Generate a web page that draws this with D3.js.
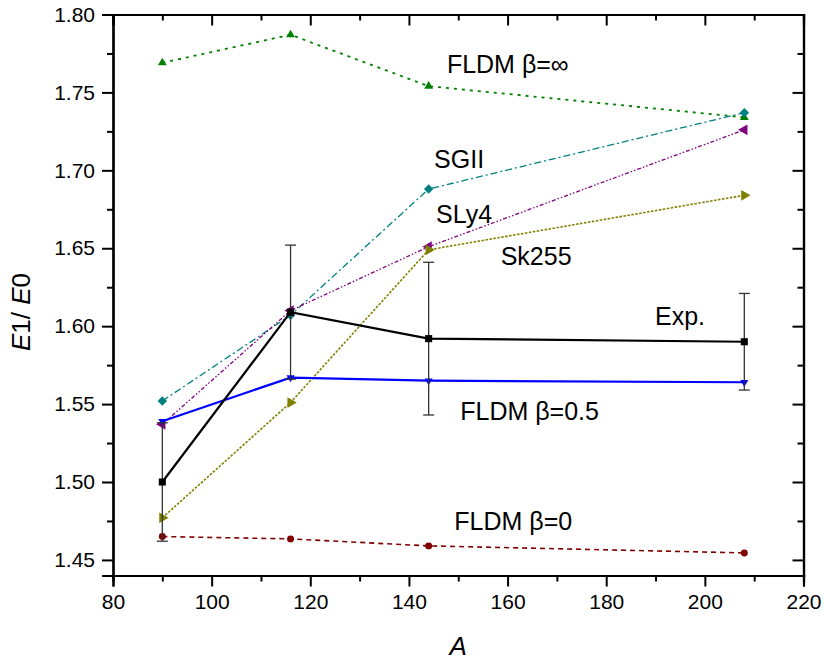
<!DOCTYPE html>
<html>
<head>
<meta charset="utf-8">
<script src="https://cdn.jsdelivr.net/npm/d3@7"></script>
<style>
  body { margin: 0; background: #fff; }
  svg { font-family: "Liberation Sans", Arial, sans-serif; }
</style>
</head>
<body>
<div id="chart"></div>
<script>
// mass numbers and E1/E0 ratios
var massA = [90, 116, 144, 208];
var expVals = [1.500, 1.609, 1.592, 1.590];
var expErr = [0.038, 0.043, 0.049, 0.031];
var fldm05 = [1.539, 1.567, 1.565, 1.564];
var fldm0 = [1.465, 1.4635, 1.459, 1.4545];
var fldmInf = [1.769, 1.787, 1.754, 1.734];
var sgii = [1.552, 1.607, 1.688, 1.737];
var sly4 = [1.537, 1.610, 1.651, 1.726];
var sk255 = [1.477, 1.551, 1.649, 1.684];

var xTicks = [80, 100, 120, 140, 160, 180, 200, 220];
var yTicks = [1.45, 1.50, 1.55, 1.60, 1.65, 1.70, 1.75, 1.80];

var margin = {top: 14.5, right: 20.5, bottom: 87.5, left: 113},
    width = 824 - margin.left - margin.right,
    height = 663 - margin.top - margin.bottom;

var svg = d3.select("#chart")
    .append("svg")
    .attr("width", 824)
    .attr("height", 663)
    .append("g")
    .attr("transform", "translate(" + margin.left + "," + margin.top + ")");

var x = d3.scaleLinear().domain([80, 220]).range([0, width]);
var y = d3.scaleLinear().domain([1.44, 1.80]).range([height, 0]);

var minorX = d3.range(90, 220, 20);
var minorY = d3.range(1.475, 1.80, 0.05);

// bottom axis
svg.append("g")
  .attr("transform", "translate(0," + height + ")")
  .call(d3.axisBottom(x).tickValues(xTicks).tickSize(11).tickPadding(8).tickFormat(d3.format("d")));
svg.append("g")
  .attr("transform", "translate(0," + height + ")")
  .call(d3.axisBottom(x).tickValues(minorX).tickSize(6).tickFormat(""));
// left axis
svg.append("g")
  .call(d3.axisLeft(y).tickValues(yTicks).tickSize(11).tickPadding(7).tickFormat(d3.format(".2f")));
svg.append("g")
  .call(d3.axisLeft(y).tickValues(minorY).tickSize(6).tickFormat(""));
// top axis (ticks inward)
svg.append("g")
  .call(d3.axisTop(x).tickValues(xTicks).tickSize(-11).tickFormat(""));
svg.append("g")
  .call(d3.axisTop(x).tickValues(minorX).tickSize(-6).tickFormat(""));
// right axis (ticks inward)
svg.append("g")
  .attr("transform", "translate(" + width + ",0)")
  .call(d3.axisRight(y).tickValues(yTicks).tickSize(-11).tickFormat(""));
svg.append("g")
  .attr("transform", "translate(" + width + ",0)")
  .call(d3.axisRight(y).tickValues(minorY).tickSize(-6).tickFormat(""));

svg.selectAll(".domain").attr("stroke", "#000").attr("stroke-width", 2.2);
svg.selectAll(".tick line").attr("stroke", "#000").attr("stroke-width", 2);
svg.selectAll(".tick text").attr("font-size", 21).attr("fill", "#000")
  .attr("font-family", "'Liberation Sans', Arial, sans-serif");

// axis titles
svg.append("text")
  .attr("x", width / 2)
  .attr("y", height + 79)
  .attr("text-anchor", "middle")
  .attr("font-size", 26)
  .attr("font-style", "italic")
  .text("A");

svg.append("text")
  .attr("transform", "translate(" + (-83) + "," + (312 - margin.top) + ")rotate(-90)")
  .attr("text-anchor", "middle")
  .attr("font-size", 26)
  .html('<tspan font-style="italic">E</tspan>1/ <tspan font-style="italic">E</tspan>0');

var line = d3.line()
  .x(function(d, i) { return x(massA[i]); })
  .y(function(d) { return y(d); });

function series(vals, color, width, dash, symbol, size, rot) {
  svg.append("path")
    .datum(vals)
    .attr("fill", "none")
    .attr("stroke", color)
    .attr("stroke-width", width)
    .attr("stroke-dasharray", dash)
    .attr("d", line);
  svg.selectAll(null)
    .data(vals)
    .enter()
    .append("path")
    .attr("d", d3.symbol().type(symbol).size(size))
    .attr("transform", function(d, i) {
      return "translate(" + x(massA[i]) + "," + y(d) + ")rotate(" + rot + ")";
    })
    .attr("fill", color);
}

series(fldm0, "#800000", 1.6, "5,4", d3.symbolCircle, 38, 0);
series(fldmInf, "#008000", 1.8, "3,5", d3.symbolTriangle, 34, 0);
series(sgii, "#008080", 1.3, "7,3,2,3", d3.symbolSquare, 45, 45);
series(sly4, "#800080", 1.3, "4,2,1.5,2,1.5,2", d3.symbolTriangle, 50, -90);
series(sk255, "#808000", 1.6, "2.5,1.5", d3.symbolTriangle, 50, 90);
series(fldm05, "#0000ff", 2.2, null, d3.symbolTriangle, 28, 180);

// experimental error bars
var bars = svg.selectAll(".err")
  .data(expVals)
  .enter()
  .append("g");
bars.append("line")
  .attr("x1", function(d, i) { return x(massA[i]); })
  .attr("x2", function(d, i) { return x(massA[i]); })
  .attr("y1", function(d, i) { return y(d - expErr[i]); })
  .attr("y2", function(d, i) { return y(d + expErr[i]); })
  .attr("stroke", "#333").attr("stroke-width", 1.3);
[-1, 1].forEach(function(s) {
  bars.append("line")
    .attr("x1", function(d, i) { return x(massA[i]) - 5.5; })
    .attr("x2", function(d, i) { return x(massA[i]) + 5.5; })
    .attr("y1", function(d, i) { return y(d + s * expErr[i]); })
    .attr("y2", function(d, i) { return y(d + s * expErr[i]); })
    .attr("stroke", "#333").attr("stroke-width", 1.3);
});

series(expVals, "#000", 2.2, null, d3.symbolSquare, 50, 0);

// curve labels
var labels = [
  {t: "FLDM \u03b2=\u221e", v: [147.7, 1.7623]},
  {t: "SGII", v: [145.1, 1.7018]},
  {t: "SLy4", v: [145.5, 1.6663]},
  {t: "Sk255", v: [158.6, 1.6394]},
  {t: "Exp.", v: [189.9, 1.6010]},
  {t: "FLDM \u03b2=0.5", v: [150.4, 1.5400]},
  {t: "FLDM \u03b2=0", v: [149.2, 1.4691]}
];
svg.selectAll(".lbl")
  .data(labels)
  .enter()
  .append("text")
  .attr("x", function(d) { return x(d.v[0]); })
  .attr("y", function(d) { return y(d.v[1]); })
  .attr("font-size", 25)
  .attr("fill", "#000")
  .text(function(d) { return d.t; });
</script>
</body>
</html>
